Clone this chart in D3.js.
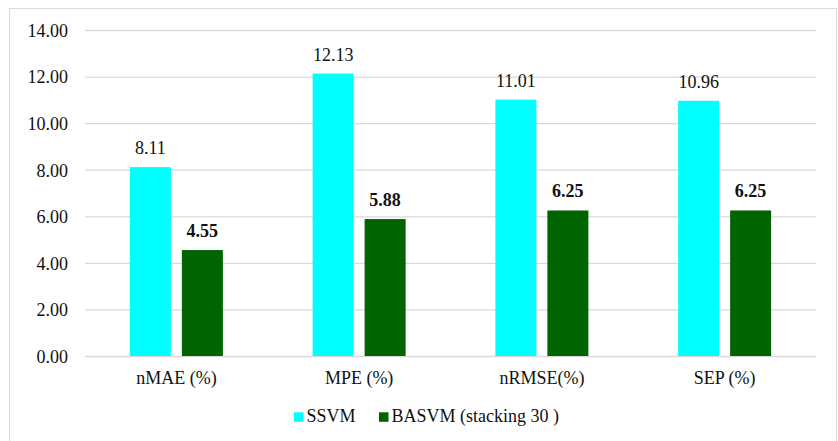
<!DOCTYPE html>
<html>
<head>
<meta charset="utf-8">
<script src="https://cdn.jsdelivr.net/npm/d3@7"></script>
<style>
  html, body { margin: 0; padding: 0; background: #fff; }
  svg { display: block; font-family: "Liberation Serif", "Times New Roman", serif; }
  svg text { font-family: "Liberation Serif", "Times New Roman", serif; }
</style>
</head>
<body>
<svg id="chart" width="838" height="441"></svg>
<script>
// Error metrics for the two models
const categories = ["nMAE (%)", "MPE (%)", "nRMSE(%)", "SEP (%)"];
const seriesNames = ["SSVM", "BASVM (stacking 30 )"];
const ssvmValues = [8.11, 12.13, 11.01, 10.96];
const basvmValues = [4.55, 5.88, 6.25, 6.25];
const yTicks = [0, 2, 4, 6, 8, 10, 12, 14];

const colors = ["#00ffff", "#006400"];
const series = [ssvmValues, basvmValues];
const serif = "'Liberation Serif', 'Times New Roman', serif";

const svg = d3.select("#chart");
const W = 838, H = 441;
const plot = { left: 85, right: 816, top: 30, bottom: 356 };

// outer frame
svg.append("rect")
  .attr("x", 9.5).attr("y", 8.5)
  .attr("width", 827).attr("height", H + 10)
  .attr("fill", "none").attr("stroke", "#d9d9d9").attr("stroke-width", 1);

const y = d3.scaleLinear().domain([0, 14]).range([plot.bottom, plot.top]);
const x0 = d3.scaleBand().domain(categories).range([plot.left, plot.right]).padding(0);
const groupWidth = 93;
const x1 = d3.scaleBand().domain(d3.range(series.length)).range([0, groupWidth]).paddingInner(0.2115);
const groupOffset = (x0.bandwidth() - groupWidth) / 2;

// y axis with gridlines
const yAxis = svg.append("g")
  .attr("transform", `translate(${plot.left},0)`)
  .call(d3.axisLeft(y).tickValues(yTicks).tickFormat(d3.format(".2f"))
    .tickSize(-(plot.right - plot.left)).tickPadding(17))
  .attr("font-family", serif).attr("font-size", 18);
yAxis.select(".domain").remove();
yAxis.selectAll(".tick line").attr("stroke", "#d9d9d9").attr("stroke-width", 1.3);
yAxis.selectAll(".tick text")
  .attr("fill", "#111").attr("dy", "0.35em");

// x axis labels
const xAxis = svg.append("g")
  .attr("transform", `translate(0,${plot.bottom})`)
  .call(d3.axisBottom(x0).tickSize(0))
  .attr("font-family", serif).attr("font-size", 18);
xAxis.select(".domain").remove();
xAxis.selectAll(".tick text")
  .attr("fill", "#111")
  .attr("y", 28).attr("dy", 0);

// bars
const groups = svg.append("g").selectAll("g")
  .data(categories)
  .join("g")
  .attr("transform", d => `translate(${x0(d) + groupOffset},0)`);

groups.selectAll("rect")
  .data((c, i) => series.map((s, k) => ({ k, v: s[i] })))
  .join("rect")
  .attr("x", d => x1(d.k))
  .attr("width", x1.bandwidth())
  .attr("y", d => y(d.v))
  .attr("height", d => y(0) - y(d.v))
  .attr("fill", d => colors[d.k]);

// value labels
groups.selectAll("text.val")
  .data((c, i) => series.map((s, k) => ({ k, v: s[i] })))
  .join("text")
  .attr("class", "val")
  .attr("x", d => x1(d.k) + x1.bandwidth() / 2)
  .attr("y", d => y(d.v) - 13)
  .attr("text-anchor", "middle")
  .attr("font-size", "18px")
  .attr("font-weight", d => d.k === 1 ? "bold" : "normal")
  .attr("fill", "#111")
  .text(d => d3.format(".2f")(d.v));

// legend
const legendX = [294, 379];
const legend = svg.append("g");
seriesNames.forEach((name, k) => {
  legend.append("rect")
    .attr("x", legendX[k]).attr("y", 412.3)
    .attr("width", 9.5).attr("height", 9.5)
    .attr("fill", colors[k]);
  legend.append("text")
    .attr("x", legendX[k] + 12.5).attr("y", 422)
    .attr("font-size", "18px").attr("fill", "#111")
    .text(name);
});
</script>
</body>
</html>
